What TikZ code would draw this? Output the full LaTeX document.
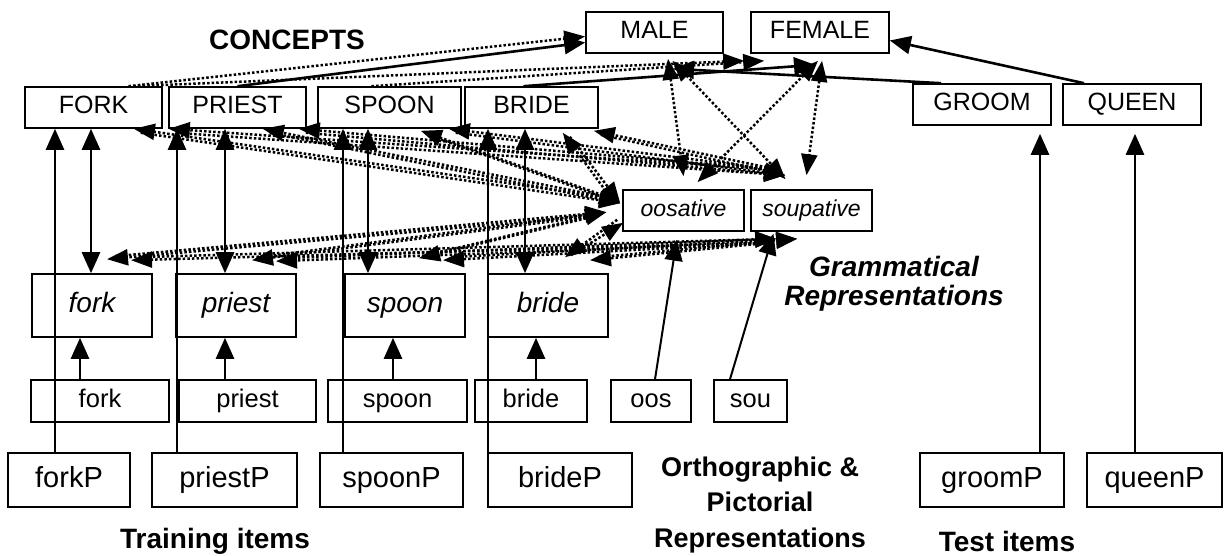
\documentclass[tikz,border=0pt]{standalone}
\usepackage{fontspec}
\setmainfont{Liberation Sans}
\usetikzlibrary{arrows.meta}
\begin{document}
\begin{tikzpicture}[x=1pt,y=-1pt,
  bx/.style={draw, line width=1.6pt, inner sep=0pt},
  cpt/.style={bx, minimum height=41pt, text height=18pt, text depth=5.2pt, font=\fontsize{25}{27}\selectfont},
  gram/.style={bx, minimum height=63pt, minimum width=120pt, text height=20pt, text depth=5.9pt, font=\fontsize{28}{30}\selectfont\itshape},
  cls/.style={bx, minimum height=41pt, minimum width=121pt, text height=16.5pt, text depth=4.8pt, font=\fontsize{23}{25}\selectfont\itshape},
  orth/.style={bx, minimum height=42pt, text height=18.3pt, text depth=5.3pt, font=\fontsize{25.5}{27}\selectfont},
  pic/.style={bx, minimum height=54pt, text height=20.8pt, text depth=6.1pt, font=\fontsize{29}{31}\selectfont},
  lbl/.style={font=\fontsize{28}{30}\selectfont\bfseries, align=center},
  sol/.style={line width=2.6pt, -{Triangle[length=21pt,width=18pt]}},
  solb/.style={line width=2.6pt, {Triangle[length=21pt,width=18pt]}-{Triangle[length=21pt,width=18pt]}},
  dotl/.style={line width=2.5pt, dash pattern=on 2.5pt off 2.1pt, -{Triangle[length=21pt,width=16pt]}},
  dotlb/.style={line width=2.5pt, dash pattern=on 2.5pt off 2.1pt, {Triangle[length=21pt,width=16pt]}-{Triangle[length=21pt,width=16pt]}},
]
\useasboundingbox (0,0) rectangle (1231,556);

% concepts
\node[lbl] (concepts) at (287,40) {CONCEPTS};
\node[cpt, minimum width=137pt] (MALE) at (654.5,32.5) {MALE};
\node[cpt, minimum width=138pt] (FEMALE) at (820,32.5) {FEMALE};
\node[cpt, minimum width=137pt] (FORK) at (93.5,107.5) {FORK};
\node[cpt, minimum width=137pt] (PRIEST) at (237.5,107.5) {PRIEST};
\node[cpt, minimum width=143pt] (SPOON) at (389.5,107.5) {SPOON};
\node[cpt, minimum width=133pt] (BRIDE) at (531.5,107.5) {BRIDE};
\node[cpt, minimum width=138pt] (GROOM) at (982,104.5) {GROOM};
\node[cpt, minimum width=138pt] (QUEEN) at (1132,104.5) {QUEEN};

% grammatical
\node[gram] (fork) at (92,305.5) {fork};
\node[gram] (priest) at (236,305.5) {priest};
\node[gram] (spoon) at (405,305.5) {spoon};
\node[gram] (bride) at (548,305.5) {bride};
\node[cls] (oosative) at (683.5,210.5) {oosative};
\node[cls] (soupative) at (811.5,210.5) {soupative};
\node[lbl, font=\fontsize{28}{29}\selectfont\bfseries\itshape] (gramlbl) at (894,284) {Grammatical\\Representations};

% orthographic
\node[orth, minimum width=138pt] (forkO) at (100,401) {fork};
\node[orth, minimum width=137pt] (priestO) at (247.5,401) {priest};
\node[orth, minimum width=139pt] (spoonO) at (397.5,401) {spoon};
\node[orth, minimum width=112pt] (brideO) at (531,401) {bride};
\node[orth, minimum width=80pt] (oos) at (651,401) {oos};
\node[orth, minimum width=73pt] (sou) at (750.5,401) {sou};

% pictorial
\node[pic, minimum width=122pt] (forkP) at (69,480) {forkP};
\node[pic, minimum width=145pt] (priestP) at (224.5,480) {priestP};
\node[pic, minimum width=143pt] (spoonP) at (391.5,480) {spoonP};
\node[pic, minimum width=144pt] (brideP) at (560,480) {brideP};
\node[pic, minimum width=144pt] (groomP) at (992,480) {groomP};
\node[pic, minimum width=135pt] (queenP) at (1154.5,480) {queenP};

\node[lbl, font=\fontsize{27}{35.5}\selectfont\bfseries] (orthlbl) at (760,505) {Orthographic \&\\Pictorial\\Representations};
\node[lbl] (train) at (215,541) {Training items};
\node[lbl] (test) at (1007,541) {Test items};

% long vertical arrows
\draw[sol] ([xshift=-14pt]forkP.north) -- ([xshift=-38.5pt]FORK.south);
\draw[sol] ([xshift=-47.5pt]priestP.north) -- ([xshift=-60.5pt]PRIEST.south);
\draw[sol] ([xshift=-48.5pt]spoonP.north) -- ([xshift=-46.5pt]SPOON.south);
\draw[sol] ([xshift=-72pt]brideP.north) -- ([xshift=-43.5pt]BRIDE.south);
\draw[sol, shorten >=8pt] ([xshift=48pt]groomP.north) -- ([xshift=58pt]GROOM.south);
\draw[sol, shorten >=8pt] ([xshift=-19.5pt]queenP.north) -- ([xshift=3pt]QUEEN.south);

% concept <-> word
\draw[solb] ([xshift=-2.5pt]FORK.south) -- ([xshift=-1pt]fork.north);
\draw[solb] ([xshift=-12.5pt]PRIEST.south) -- ([xshift=-11pt]priest.north);
\draw[solb] ([xshift=-21.5pt]SPOON.south) -- ([xshift=-37pt]spoon.north);
\draw[solb] ([xshift=-6.5pt]BRIDE.south) -- ([xshift=-23pt]bride.north);

% orthographic -> word
\draw[sol] ([xshift=-20pt]forkO.north) -- ([xshift=-12pt]fork.south);
\draw[sol] ([xshift=-22.5pt]priestO.north) -- ([xshift=-11pt]priest.south);
\draw[sol] ([xshift=-4.5pt]spoonO.north) -- ([xshift=-12pt]spoon.south);
\draw[sol] ([xshift=5pt]brideO.north) -- ([xshift=-12pt]bride.south);

\draw[sol, line width=2pt, shorten >=8pt] ([xshift=4pt]oos.north) -- ([xshift=-5.5pt]oosative.south);
\draw[sol, line width=2pt, shorten >=2pt] ([xshift=-20.5pt]sou.north) -- ([xshift=-37.5pt]soupative.south);

% concepts -> MALE / FEMALE
\draw[sol] (PRIEST.north) -- ([yshift=-10pt]MALE.west);
\draw[sol] ([xshift=-8pt]BRIDE.north) -- ([xshift=-5pt,yshift=-11pt]FEMALE.south);
\draw[sol] ([xshift=-41pt]GROOM.north) -- ([xshift=18.5pt,yshift=-15pt]MALE.south);
\draw[sol] ([xshift=-48pt]QUEEN.north) -- ([yshift=-8pt]FEMALE.east);
\draw[dotl] ([xshift=35pt]FORK.north) -- ([yshift=-4pt]MALE.west);
\draw[dotl] ([xshift=40pt]FORK.north) -- ([xshift=-6pt,yshift=-7pt]FEMALE.south west);
\draw[dotl] ([xshift=-18pt]SPOON.north) -- ([xshift=14pt,yshift=-7pt]FEMALE.south west);

% MALE/FEMALE <-> classes
\draw[dotlb] ([xshift=13.5pt,yshift=-5pt]MALE.south) -- ([yshift=13pt]oosative.north);
\draw[dotlb] ([xshift=18pt,yshift=-7pt]MALE.south) -- ([xshift=-26pt,yshift=10pt]soupative.north);
\draw[dotlb] ([xshift=-2pt,yshift=-7pt]FEMALE.south) -- ([xshift=14pt,yshift=7pt]oosative.north);
\draw[dotlb] ([xshift=2pt,yshift=-7pt]FEMALE.south) -- ([xshift=-5pt,yshift=14pt]soupative.north);

% attachment points
\coordinate (Oin) at ([xshift=-2pt,yshift=-14pt]oosative.north west);
\coordinate (Oout) at ([xshift=-11pt,yshift=-9pt]oosative.north west);
\coordinate (Sin) at ([xshift=35pt,yshift=14pt]soupative.north west);
\coordinate (Sout) at ([xshift=30pt,yshift=19pt]soupative.north west);
\coordinate (Fo) at ([xshift=-29pt]FORK.south east);
\coordinate (Fs) at ([xshift=6pt]FORK.south east);
\coordinate (Po) at ([xshift=-44pt]PRIEST.south east);
\coordinate (Ps) at ([xshift=-8pt]PRIEST.south east);
\coordinate (So) at ([xshift=-41pt,yshift=-2pt]SPOON.south east);
\coordinate (Ss) at ([xshift=-13pt]SPOON.south east);
\coordinate (Bo) at ([xshift=-36pt,yshift=-4pt]BRIDE.south east);
\coordinate (Bs) at ([xshift=-5pt,yshift=-2pt]BRIDE.south east);

\foreach \cc in {F,P,S,B} {
  \draw[dotl] (Oout) -- (\cc o);
  \draw[dotl] ([xshift=7pt,yshift=-4pt]\cc o) -- (Oin);
  \draw[dotl] (Sout) -- (\cc s);
  \draw[dotl] ([xshift=7pt,yshift=-4pt]\cc s) -- (Sin);
}

\coordinate (fo) at ([xshift=15pt,yshift=14pt]fork.north);
\coordinate (fs) at ([xshift=39pt,yshift=13pt]fork.north);
\coordinate (po) at ([xshift=16pt,yshift=13pt]priest.north);
\coordinate (ps) at ([xshift=40pt,yshift=12pt]priest.north);
\coordinate (so) at ([xshift=14pt,yshift=15pt]spoon.north);
\coordinate (ss) at ([xshift=38pt,yshift=13pt]spoon.north);
\coordinate (bo) at ([xshift=17pt,yshift=16pt]bride.north);
\coordinate (bs) at ([xshift=42pt,yshift=13pt]bride.north);

\coordinate (OWin) at ([xshift=-16pt,yshift=-23pt]oosative.north west);
\coordinate (OWout) at ([xshift=-23pt,yshift=-26pt]oosative.north west);
\coordinate (OBin) at ([xshift=1pt,yshift=9pt]oosative.south west);
\coordinate (SW1) at ([xshift=26pt,yshift=-7pt]soupative.south west);
\coordinate (SW2) at ([xshift=47pt,yshift=-7pt]soupative.south west);
\coordinate (SWout) at ([xshift=19pt,yshift=-11pt]soupative.south west);

\foreach \ww in {f,p,s} {
  \draw[dotl] (OWout) -- (\ww o);
  \draw[dotl] ([xshift=8pt,yshift=3pt]\ww o) -- (OWin);
  \draw[dotl] (SWout) -- (\ww s);
}
\draw[dotl] ([xshift=8pt,yshift=3pt]fs) -- (SW1);
\draw[dotl] ([xshift=8pt,yshift=3pt]ps) -- (SW1);
\draw[dotl] ([xshift=8pt,yshift=3pt]ss) -- (SW2);
\draw[dotl] ([xshift=-6pt,yshift=3pt]OBin) -- (bo);
\draw[dotl] ([xshift=6pt,yshift=2pt]bo) -- (OBin);
\draw[dotl] (SWout) -- (bs);
\draw[dotl] ([xshift=8pt,yshift=3pt]bs) -- (SW2);
\end{tikzpicture}
\end{document}
